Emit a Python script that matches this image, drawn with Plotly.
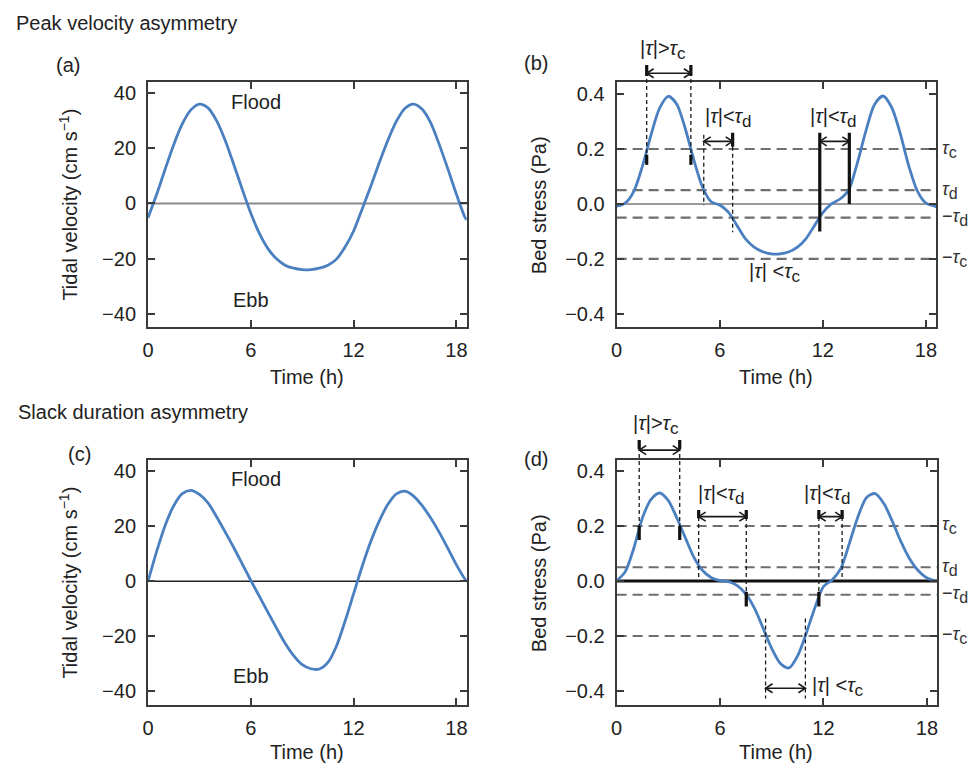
import plotly.graph_objects as go

# the page body has an 8 px margin, so the figure is drawn 8 px in from the corner
PAGE_OFF = 8
FIG_W, FIG_H = 978 - PAGE_OFF, 764 - PAGE_OFF
FONT = "Liberation Sans, Arial, sans-serif"
TXT = "#222222"

# ---------------- data ----------------
time_h = [0, 0.5, 1, 1.5, 2, 2.5, 3, 3.5, 4, 4.5, 5, 5.5, 6, 6.5, 7, 7.5, 8, 8.5, 9, 9.5,
          10, 10.5, 11, 11.5, 12, 12.5, 13, 13.5, 14, 14.5, 15, 15.5, 16, 16.5, 17, 17.5,
          18, 18.5, 18.6]

vel_peak = [-5.2, 3.2, 12.4, 21.3, 28.8, 33.9, 36.0, 34.6, 30.0, 22.9, 14.2, 5.1, -3.6,
            -10.9, -16.4, -20.1, -22.4, -23.5, -24.0, -24.0, -23.5, -22.4, -20.2, -15.8,
            -10.0, -2.0, 6.2, 14.8, 22.9, 29.8, 34.5, 36.0, 34.1, 29.2, 21.3, 12.5, 3.3,
            -5.1, -6.0]

stress_peak = [-0.008, 0.003, 0.046, 0.137, 0.251, 0.349, 0.392, 0.363, 0.273, 0.159,
               0.061, 0.008, -0.004, -0.030, -0.078, -0.127, -0.157, -0.174, -0.182,
               -0.182, -0.175, -0.158, -0.128, -0.080, -0.032, 0.000, 0.018, 0.050,
               0.148, 0.265, 0.361, 0.393, 0.352, 0.257, 0.138, 0.047, 0.003, -0.008,
               -0.011]

vel_slack = [0.0, 10.8, 20.3, 27.5, 31.9, 33.1, 31.6, 28.5, 23.5, 18.0, 12.3, 6.3, 0.3,
             -5.5, -11.3, -17.0, -22.5, -27.0, -30.3, -31.8, -31.9, -29.5, -23.5, -14.5,
             -4.5, 5.5, 14.5, 22.0, 28.0, 31.8, 32.8, 31.0, 27.5, 23.0, 17.8, 12.0, 6.0,
             0.8, 0.0]

stress_slack = [0.0, 0.034, 0.120, 0.230, 0.297, 0.320, 0.292, 0.228, 0.155, 0.084,
                0.037, 0.012, 0.001, -0.002, -0.017, -0.048, -0.100, -0.172, -0.246,
                -0.300, -0.316, -0.272, -0.190, -0.097, -0.020, 0.004, 0.045, 0.137,
                0.234, 0.304, 0.318, 0.282, 0.216, 0.142, 0.080, 0.037, 0.011, 0.001, 0.0]

x_ticks = [0, 6, 12, 18]
vel_ticks = [-40, -20, 0, 20, 40]
vel_tick_labels = ["\u221240", "\u221220", "0", "20", "40"]
stress_ticks = [-0.4, -0.2, 0.0, 0.2, 0.4]
stress_tick_labels = ["\u22120.4", "\u22120.2", "0.0", "0.2", "0.4"]

tau_c = 0.2
tau_d = 0.05
threshold_values = [tau_c, tau_d, -tau_d, -tau_c]
threshold_names = [("", "c"), ("", "d"), ("\u2212", "d"), ("\u2212", "c")]

# times where the bed stress crosses the thresholds
peak_exceed_t = [1.75, 4.32]
peak_slack1_t = [5.07, 6.75]
peak_slack2_t = [11.82, 13.54]
slack_exceed_t = [1.31, 3.66]
slack_slack1_t = [4.76, 7.52]
slack_slack2_t = [11.73, 13.08]
slack_ebb_t = [8.64, 10.95]


# ---------------- text helpers ----------------
def tau(sub, sub_px=17):
    return ("<i>\u03c4</i><sub><span style='font-size:%dpx'>%s</span></sub>"
            % (sub_px, sub))


TAU = "<i>\u03c4</i>"


# ---------------- geometry (reference-picture pixels) ----------------
def fx(p):
    return (p - PAGE_OFF) / FIG_W


def fy(p):
    return 1 - (p - PAGE_OFF) / FIG_H


P = {
    "a": dict(x="x", y="y", xd=[143, 464], yd=[82, 327], yr=[-44.8, 44.0]),
    "b": dict(x="x2", y="y2", xd=[615, 937], yd=[82, 327], yr=[-0.448, 0.444]),
    "c": dict(x="x3", y="y3", xd=[143, 464], yd=[459.5, 704.5], yr=[-44.8, 44.3]),
    "d": dict(x="x4", y="y4", xd=[615, 938], yd=[460, 705], yr=[-0.451, 0.440]),
}
XR = [0, 18.6]


def yp(k, v):
    """value on panel k's y scale -> paper coordinate (for items outside the frame)"""
    p = P[k]
    lo, hi = p["yr"]
    f = (v - lo) / (hi - lo)
    y0, y1 = fy(p["yd"][1]), fy(p["yd"][0])
    return y0 + f * (y1 - y0)


def hours_per_px(k):
    p = P[k]
    return (XR[1] - XR[0]) / (p["xd"][1] - p["xd"][0])


fig = go.Figure()

BLUE = "#4a7fc0"
series = [("a", vel_peak), ("b", stress_peak), ("c", vel_slack), ("d", stress_slack)]
for k, vals in series:
    fig.add_trace(go.Scatter(x=time_h, y=vals, mode="lines",
                             line=dict(color=BLUE, width=2.8, shape="spline", smoothing=0.8),
                             xaxis=P[k]["x"], yaxis=P[k]["y"], showlegend=False,
                             hoverinfo="skip"))

axis_common = dict(showline=True, linewidth=2, linecolor="#3a3a3a", mirror="ticks",
                   ticks="inside", ticklen=7, tickwidth=2, tickcolor="#3a3a3a",
                   showgrid=False, zeroline=False,
                   tickfont=dict(size=20, color=TXT, family=FONT))

layout = dict(width=FIG_W, height=FIG_H, margin=dict(l=0, r=0, t=0, b=0),
              paper_bgcolor="white", plot_bgcolor="white", showlegend=False,
              font=dict(family=FONT, color=TXT, size=20))

for i, k in enumerate(["a", "b", "c", "d"]):
    p = P[k]
    xname = "xaxis" if i == 0 else f"xaxis{i+1}"
    yname = "yaxis" if i == 0 else f"yaxis{i+1}"
    xa = dict(axis_common, domain=[fx(p["xd"][0]), fx(p["xd"][1])], range=XR,
              tickvals=x_ticks, anchor=p["y"], ticklabelstandoff=4)
    if k in ("a", "c"):
        ya = dict(axis_common, domain=[fy(p["yd"][1]), fy(p["yd"][0])], range=p["yr"],
                  tickvals=vel_ticks, ticktext=vel_tick_labels, anchor=p["x"],
                  ticklabelstandoff=6)
    else:
        ya = dict(axis_common, domain=[fy(p["yd"][1]), fy(p["yd"][0])], range=p["yr"],
                  tickvals=stress_ticks, ticktext=stress_tick_labels, anchor=p["x"],
                  ticklabelstandoff=6)
    layout[xname] = xa
    layout[yname] = ya

fig.update_layout(**layout)

# zero lines
zero_style = {"a": dict(color="#8a8a8a", width=2), "b": dict(color="#7a7a7a", width=1.5),
              "c": dict(color="#222222", width=1.5), "d": dict(color="#111111", width=3)}
for k in "abcd":
    fig.add_shape(type="line", xref=P[k]["x"] + " domain", x0=0, x1=1,
                  yref=P[k]["y"], y0=0, y1=0, line=zero_style[k], layer="below")

# threshold dashed lines + their labels on the right
for k in "bd":
    for v in threshold_values:
        fig.add_shape(type="line", xref=P[k]["x"] + " domain", x0=0, x1=1,
                      yref=P[k]["y"], y0=v, y1=v,
                      line=dict(color="#6e6e6e", width=2.2, dash="10px,6px"),
                      layer="below")
    for v, (sign, sub) in zip(threshold_values, threshold_names):
        fig.add_annotation(xref="paper", x=fx(942), xanchor="left", yref=P[k]["y"], y=v,
                           yanchor="middle", text=sign + tau(sub, 16), showarrow=False,
                           borderpad=0,
                           font=dict(size=18, color="#333333", family=FONT))

THIN = dict(color="#1a1a1a", width=1.3, dash="4px,3px")
THICK = dict(color="#111111", width=3.2)
ARROW = dict(color="#1a1a1a", width=1.6)


def seg(k, t, v0, v1, style):
    fig.add_shape(type="line", xref=P[k]["x"], yref="paper", x0=t, x1=t,
                  y0=yp(k, v0), y1=yp(k, v1), line=style, layer="above")


def arrow(k, t0, t1, v):
    """double-headed horizontal arrow between t0 and t1 at level v"""
    y = yp(k, v)
    xref = P[k]["x"]
    fig.add_shape(type="line", xref=xref, yref="paper", x0=t0, x1=t1, y0=y, y1=y,
                  line=ARROW)
    hx = 7 * hours_per_px(k)     # head length, 7 px
    hy = 4.5 / FIG_H             # head half-width, 4.5 px
    for tip, d in ((t0, 1), (t1, -1)):
        path = "M %f,%f L %f,%f L %f,%f" % (tip + d * hx, y + hy, tip, y,
                                             tip + d * hx, y - hy)
        fig.add_shape(type="path", xref=xref, yref="paper", path=path, line=ARROW)


def label(k, t, v, text):
    fig.add_annotation(xref=P[k]["x"], x=t, yref="paper", y=yp(k, v), text=text,
                       showarrow=False, xanchor="center", yanchor="middle",
                       font=dict(size=20, color=TXT, family=FONT))


# panel (b)
for t in peak_exceed_t:
    seg("b", t, 0.506, 0.143, THIN)
    seg("b", t, 0.506, 0.466, THICK)
    seg("b", t, 0.179, 0.143, THICK)
arrow("b", peak_exceed_t[0], peak_exceed_t[1], 0.476)
t0, t1 = peak_slack1_t
seg("b", t0, 0.252, -0.005, THIN)
seg("b", t1, 0.208, -0.103, THIN)
seg("b", t1, 0.259, 0.208, THICK)
arrow("b", t0, t1, 0.228)
t0, t1 = peak_slack2_t
seg("b", t0, 0.259, -0.10, THICK)
seg("b", t1, 0.259, 0.0, THICK)
arrow("b", t0, t1, 0.228)
label("b", 2.70, 0.561, "|" + TAU + "|>" + tau("c"))
label("b", 6.51, 0.314, "|" + TAU + "|<" + tau("d"))
label("b", 12.62, 0.314, "|" + TAU + "|<" + tau("d"))
label("b", 9.2, -0.25, "|" + TAU + "| <" + tau("c"))

# panel (d)
for t in slack_exceed_t:
    seg("d", t, 0.513, 0.149, THIN)
    seg("d", t, 0.513, 0.480, THICK)
    seg("d", t, 0.200, 0.149, THICK)
arrow("d", slack_exceed_t[0], slack_exceed_t[1], 0.476)
t0, t1 = slack_slack1_t
seg("d", t0, 0.258, 0.004, THIN)
seg("d", t0, 0.258, 0.228, THICK)
seg("d", t1, 0.258, -0.093, THIN)
seg("d", t1, 0.258, 0.225, THICK)
seg("d", t1, -0.039, -0.093, THICK)
arrow("d", t0, t1, 0.234)
t0, t1 = slack_slack2_t
seg("d", t0, 0.258, -0.093, THIN)
seg("d", t0, 0.258, 0.225, THICK)
seg("d", t0, -0.039, -0.093, THICK)
seg("d", t1, 0.258, 0.004, THIN)
seg("d", t1, 0.258, 0.225, THICK)
arrow("d", t0, t1, 0.234)
for t in slack_ebb_t:
    seg("d", t, -0.136, -0.427, THIN)
arrow("d", slack_ebb_t[0], slack_ebb_t[1], -0.39)
label("d", 2.31, 0.567, "|" + TAU + "|>" + tau("c"))
label("d", 6.08, 0.313, "|" + TAU + "|<" + tau("d"))
label("d", 12.25, 0.313, "|" + TAU + "|<" + tau("d"))
label("d", 12.85, -0.384, "|" + TAU + "| <" + tau("c"))

# Flood / Ebb labels
for k, fl, eb in [("a", (6.29, 36.6), (6.0, -34.9)), ("c", (6.29, 37.3), (6.0, -34.5))]:
    fig.add_annotation(xref=P[k]["x"], yref=P[k]["y"], x=fl[0], y=fl[1], text="Flood",
                       showarrow=False, font=dict(size=20, color=TXT, family=FONT))
    fig.add_annotation(xref=P[k]["x"], yref=P[k]["y"], x=eb[0], y=eb[1], text="Ebb",
                       showarrow=False, font=dict(size=20, color=TXT, family=FONT))


def ptext(x, y, text, angle=0, xanchor="center", size=20):
    fig.add_annotation(xref="paper", yref="paper", x=fx(x), y=fy(y), text=text,
                       textangle=angle, showarrow=False, xanchor=xanchor,
                       yanchor="middle", font=dict(size=size, color=TXT, family=FONT))


ptext(8, 23, "Peak velocity asymmetry", xanchor="left")
ptext(10, 412, "Slack duration asymmetry", xanchor="left")
ptext(62, 65, "(a)")
ptext(534, 63, "(b)")
ptext(74, 454, "(c)")
ptext(534, 459, "(d)")

ptext(62, 205, "Tidal velocity (cm s<sup>\u22121</sup>)", angle=-90)
ptext(62, 583, "Tidal velocity (cm s<sup>\u22121</sup>)", angle=-90)
ptext(537, 205, "Bed stress (Pa)", angle=-90)
ptext(537, 583, "Bed stress (Pa)", angle=-90)
ptext(303.5, 377, "Time (h)")
ptext(776, 377, "Time (h)")
ptext(303.5, 752, "Time (h)")
ptext(776, 752, "Time (h)")

fig.write_html("out.html")
